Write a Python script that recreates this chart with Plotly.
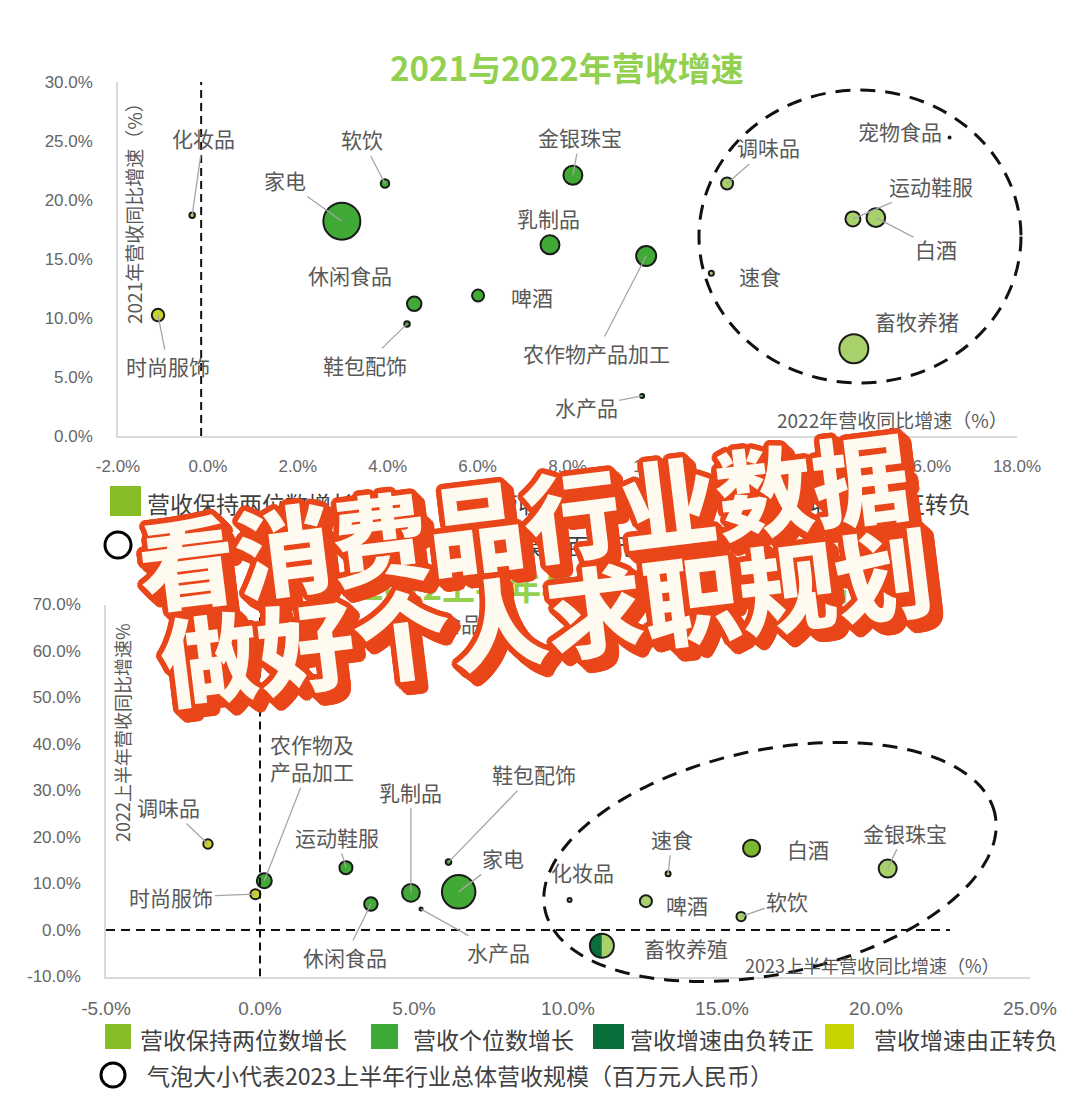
import numpy as np
import plotly.graph_objects as go

W, H = 1080, 1096

# ---------------- DATA: top chart (2021 vs 2022) ----------------
TOP_NAMES = ["化妆品", "时尚服饰", "家电", "软饮", "休闲食品", "鞋包配饰", "啤酒", "乳制品",
             "金银珠宝", "农作物产品加工", "水产品", "调味品", "速食", "宠物食品", "运动鞋服",
             "白酒", "畜牧养猪"]
TOP_GROWTH_2022 = [-0.35, -1.11, 2.98, 3.94, 4.59, 4.43, 6.01, 7.61, 8.12, 9.75, 9.66,
                   11.55, 11.2, 16.5, 14.35, 14.86, 14.37]
TOP_GROWTH_2021 = [18.7, 10.25, 18.2, 21.4, 11.2, 9.5, 11.9, 16.2, 22.1, 15.25, 3.4,
                   21.4, 13.8, 25.3, 18.4, 18.5, 7.4]
TOP_REVENUE_2022 = [30000, 156000, 1370000, 72000, 210000, 30000, 144000, 361000, 361000,
                    400000, 16000, 144000, 25000, 4000, 225000, 350000, 841000]
TOP_CLASS = ["正转负", "正转负", "个位数", "个位数", "个位数", "个位数", "个位数", "个位数",
             "个位数", "个位数", "个位数", "两位数", "两位数", "两位数", "两位数", "两位数", "两位数"]

# ---------------- DATA: bottom chart (2022H1 vs 2023H1) ----------------
BOT_NAMES = ["调味品", "时尚服饰", "农作物及<br>产品加工", "运动鞋服", "休闲食品", "乳制品",
             "鞋包配饰", "水产品", "家电", "化妆品", "速食", "啤酒", "白酒", "金银珠宝",
             "软饮", "畜牧养殖", "宠物食品"]
BOT_GROWTH_2023H1 = [-1.69, -0.15, 0.14, 2.79, 3.6, 4.9, 6.12, 5.23, 6.45, 10.05, 13.25,
                     12.53, 15.96, 20.38, 15.62, 11.1, 7.2]
BOT_GROWTH_2022H1 = [18.5, 7.7, 10.6, 13.4, 5.6, 8.0, 14.6, 4.5, 8.2, 6.45, 12.1, 6.2,
                     17.6, 13.2, 2.9, -3.4, 65.0]
BOT_REVENUE_2023H1 = [44000, 50000, 112000, 85000, 91000, 158000, 15700, 4500, 561000,
                      8000, 12500, 72000, 145000, 162000, 43000, 288000, 2000]
BOT_CLASS = ["正转负", "正转负", "个位数", "个位数", "个位数", "个位数", "个位数", "个位数",
             "个位数", "两位数", "两位数", "两位数", "两位数深", "两位数", "两位数", "负转正", "两位数"]

TOP_X_TICKS = [-2, 0, 2, 4, 6, 8, 10, 12, 14, 16, 18]
TOP_Y_TICKS = [0, 5, 10, 15, 20, 25, 30]
BOT_X_TICKS = [-5, 0, 5, 10, 15, 20, 25]
BOT_Y_TICKS = [-10, 0, 10, 20, 30, 40, 50, 60, 70]

LEGEND_LABELS = ["营收保持两位数增长", "营收个位数增长", "营收增速由负转正", "营收增速由正转负"]

# ---------------- STYLE ----------------
LEG_COLORS = {"两位数": "#86BC25", "个位数": "#3DAA35", "负转正": "#0A6E3A", "正转负": "#C8D400"}
BUBBLE_COLORS = {"两位数": "#A9D16B", "两位数深": "#7DB82C", "个位数": "#41A935",
                 "负转正": "rgba(0,0,0,0)", "正转负": "#CBD12C"}
GRAY = "#595959"
AXIS_GRAY = "#D9D9D9"
CJK = "Noto Sans CJK SC"
TOP_SIZEREF = 2000
BOT_SIZEREF = 1000

# label offsets in pixels (label centre relative to bubble), and whether a leader line is drawn
TOP_LABEL_POS = {
    "化妆品": (11, -77, True), "时尚服饰": (10, 51, True), "家电": (-57, -41, True),
    "软饮": (-23, -44, True), "休闲食品": (-64, -29, False), "鞋包配饰": (-42, 41, True),
    "啤酒": (54, 1, False), "乳制品": (-1, -27, False), "金银珠宝": (7, -38, True),
    "农作物产品加工": (-50, 97, True), "水产品": (-56, 11, True), "调味品": (41, -36, True),
    "速食": (49, 3, False), "宠物食品": (-50, -6, False), "运动鞋服": (78, -33, True),
    "白酒": (60, 31, True), "畜牧养猪": (63, -28, False),
}
BOT_LABEL_POS = {
    "调味品": (-39, -37, True), "时尚服饰": (-84, 3, True), "农作物及<br>产品加工": (48, -123, True),
    "运动鞋服": (-9, -31, True), "休闲食品": (-26, 53, True), "乳制品": (0, -101, True),
    "鞋包配饰": (85, -88, True), "水产品": (77, 43, True), "家电": (44, -34, True),
    "化妆品": (13, -28, False), "速食": (4, -35, True), "啤酒": (41, 4, False),
    "白酒": (56, 1, False), "金银珠宝": (17, -36, True), "软饮": (46, -16, True),
    "畜牧养殖": (84, 2, False), "宠物食品": (-42, -5, False),
}


def px(x):
    return x / W


def py(y):
    return 1 - y / H


fig = go.Figure()

# bubbles
fig.add_trace(go.Scatter(
    x=TOP_GROWTH_2022, y=TOP_GROWTH_2021, mode="markers", xaxis="x", yaxis="y",
    marker=dict(size=TOP_REVENUE_2022, sizemode="area", sizeref=TOP_SIZEREF,
                color=[BUBBLE_COLORS[c] for c in TOP_CLASS],
                line=dict(color="#1A1A1A", width=2), opacity=1),
    hoverinfo="skip", showlegend=False, cliponaxis=False))
fig.add_trace(go.Scatter(
    x=BOT_GROWTH_2023H1, y=BOT_GROWTH_2022H1, mode="markers", xaxis="x2", yaxis="y2",
    marker=dict(size=BOT_REVENUE_2023H1, sizemode="area", sizeref=BOT_SIZEREF,
                color=[BUBBLE_COLORS[c] for c in BOT_CLASS],
                line=dict(color="#1A1A1A", width=2), opacity=1),
    hoverinfo="skip", showlegend=False, cliponaxis=False))

shapes = []
annotations = []

# half-filled bubble(s) for "负转正"
k = 0.5523
for xv, yv, rev, cls in zip(BOT_GROWTH_2023H1, BOT_GROWTH_2022H1, BOT_REVENUE_2023H1, BOT_CLASS):
    if cls != "负转正":
        continue
    r = float(np.sqrt(rev / 2 / BOT_SIZEREF))
    left = (f"M 0,{r} C {-k*r},{r} {-r},{k*r} {-r},0 C {-r},{-k*r} {-k*r},{-r} 0,{-r} Z")
    right = (f"M 0,{r} C {k*r},{r} {r},{k*r} {r},0 C {r},{-k*r} {k*r},{-r} 0,{-r} Z")
    for path, col in ((left, LEG_COLORS["负转正"]), (right, BUBBLE_COLORS["两位数"])):
        shapes.append(dict(type="path", xref="x2", yref="y2", xsizemode="pixel",
                           ysizemode="pixel", xanchor=xv, yanchor=yv, path=path,
                           fillcolor=col, line=dict(width=0), layer="below"))

# reference dashed lines
shapes.append(dict(type="line", xref="x", yref="y", x0=-0.15, x1=-0.15, y0=0, y1=30,
                   line=dict(color="#111", width=2, dash="8px,5px")))
shapes.append(dict(type="line", xref="x2", yref="y2", x0=0, x1=0, y0=-10, y1=70,
                   line=dict(color="#111", width=2, dash="8px,5px")))
shapes.append(dict(type="line", xref="x2", yref="y2", x0=-5, x1=22.4, y0=0, y1=0,
                   line=dict(color="#111", width=2, dash="9px,6px")))

# dashed ellipses
shapes.append(dict(type="circle", xref="paper", yref="paper", x0=px(699), x1=px(1021),
                   y0=py(383), y1=py(90), line=dict(color="#111", width=3, dash="15px,10px")))


def ellipse_path(cx, cy, a, b, theta_deg, n=200):
    th = np.radians(theta_deg)
    t = np.linspace(0, 2 * np.pi, n)
    u, v = a * np.cos(t), b * np.sin(t)
    xx = cx + u * np.cos(th) - v * np.sin(th)
    yy = cy - (u * np.sin(th) + v * np.cos(th))
    return "M " + " L ".join(f"{px(x):.5f},{py(y):.5f}" for x, y in zip(xx, yy)) + " Z"


shapes.append(dict(type="path", xref="paper", yref="paper", path=ellipse_path(770, 862, 230, 112, 12),
                   line=dict(color="#111", width=3, dash="15px,10px")))

# bubble labels
lab_font = dict(family=CJK, size=21, color=GRAY)
for names, xs, ys, pos, xr, yr in (
        (TOP_NAMES, TOP_GROWTH_2022, TOP_GROWTH_2021, TOP_LABEL_POS, "x", "y"),
        (BOT_NAMES, BOT_GROWTH_2023H1, BOT_GROWTH_2022H1, BOT_LABEL_POS, "x2", "y2")):
    for n, xv, yv in zip(names, xs, ys):
        dx, dy, line = pos[n]
        annotations.append(dict(
            x=xv, y=yv, xref=xr, yref=yr, ax=dx, ay=dy, text=n, font=lab_font,
            showarrow=True, arrowhead=0, arrowwidth=1.3,
            arrowcolor="#A6A6A6" if line else "rgba(0,0,0,0)", standoff=0))


def paper_text(text, x, y, font, xanchor="center", angle=0):
    annotations.append(dict(text=text, x=px(x), y=py(y), xref="paper", yref="paper",
                            xanchor=xanchor, yanchor="middle", showarrow=False,
                            textangle=angle, font=font))


# titles
title_font = dict(family=CJK, size=33, color="#92D050")
paper_text("<b>2021与2022年营收增速</b>", 388, 67, title_font, "left")
paper_text("<b>2022上半年与2023上半年营收增速</b>", 362, 586, title_font, "left")

# axis titles
paper_text("2021年营收同比增速（%）", 133, 209, dict(family=CJK, size=19, color=GRAY), angle=-90)
paper_text("2022年营收同比增速（%）", 892, 419, dict(family=CJK, size=19, color=GRAY))
paper_text("2022上半年营收同比增速%", 122, 733, dict(family=CJK, size=18, color=GRAY), angle=-90)
paper_text("2023上半年营收同比增速（%）", 872, 965, dict(family=CJK, size=18, color=GRAY))

# legends
leg_font = dict(family=CJK, size=23, color="#404040")


def legend_item(x0, x1, y0, y1, color, text, tx, ty):
    shapes.append(dict(type="rect", xref="paper", yref="paper", x0=px(x0), x1=px(x1),
                       y0=py(y1), y1=py(y0), fillcolor=color, line=dict(width=0)))
    paper_text(text, tx, ty, leg_font, "left")


legend_item(110, 141, 486, 516, LEG_COLORS["两位数"], LEGEND_LABELS[0], 145, 503)
legend_item(459, 487, 488, 516, LEG_COLORS["个位数"], LEGEND_LABELS[1], 493, 503)
legend_item(752, 781, 488, 516, LEG_COLORS["正转负"], LEGEND_LABELS[3], 785, 503)
shapes.append(dict(type="circle", xref="paper", yref="paper", x0=px(105), x1=px(131),
                   y0=py(558), y1=py(532), line=dict(color="#000", width=3)))
paper_text("气泡大小代表2022年行业总体营收规模（百万元人民币）", 145, 545, leg_font, "left")

legend_item(105, 131, 1024, 1049, LEG_COLORS["两位数"], LEGEND_LABELS[0], 138, 1039)
legend_item(371, 398, 1024, 1049, LEG_COLORS["个位数"], LEGEND_LABELS[1], 411, 1039)
legend_item(593, 624, 1024, 1049, LEG_COLORS["负转正"], LEGEND_LABELS[2], 628, 1039)
legend_item(825, 854, 1024, 1049, LEG_COLORS["正转负"], LEGEND_LABELS[3], 872, 1039)
shapes.append(dict(type="circle", xref="paper", yref="paper", x0=px(101), x1=px(125),
                   y0=py(1087), y1=py(1063), line=dict(color="#000", width=3)))
paper_text("气泡大小代表2023上半年行业总体营收规模（百万元人民币）", 145, 1075, leg_font, "left")

# overlay headline
RED = "#E9461A"


def ring(r, dx=0.0, dy=0.0, n=20):
    return [f"{dx + r*np.cos(a):.1f}px {dy + r*np.sin(a):.1f}px 0px {RED}"
            for a in np.linspace(0, 2 * np.pi, n, endpoint=False)]


shadow = ", ".join(ring(5.5) + ring(5.5, 2.5, 3) + ring(5.5, 5, 6) + ring(5.5, 7, 8.5))
head_font = dict(family=CJK, size=97, color="#FFFAF0", weight=900, shadow=shadow)
paper_text("看消费品行业数据", 523, 516, head_font, angle=-7)
paper_text("做好个人求职规划", 546, 612, head_font, angle=-7)

tick_font = dict(family="Liberation Sans", size=17, color="#666666")
tick_font_narrow = dict(family="Liberation Sans Narrow, Liberation Sans", size=19, color="#666666")

common = dict(showgrid=False, zeroline=False, showline=True, linecolor=AXIS_GRAY,
              linewidth=1.5, ticks="", automargin=False)
fig.update_layout(
    width=W, height=H, margin=dict(l=0, r=0, t=0, b=0, pad=0, autoexpand=False),
    paper_bgcolor="white", plot_bgcolor="white", showlegend=False,
    font=dict(family=CJK),
    xaxis=dict(domain=[px(118), px(1017)], range=[-2, 18], anchor="y",
               tickvals=TOP_X_TICKS, ticktext=[f"{v:.1f}%" for v in TOP_X_TICKS],
               tickfont=tick_font, ticklabelstandoff=14, **common),
    yaxis=dict(domain=[py(436), py(82)], range=[0, 30], anchor="x",
               tickvals=TOP_Y_TICKS, ticktext=[f"{v:.1f}%" for v in TOP_Y_TICKS],
               tickfont=tick_font, ticklabelstandoff=20, **common),
    xaxis2=dict(domain=[px(106), px(1030)], range=[-5, 25], anchor="y2",
                tickvals=BOT_X_TICKS, ticktext=[f"{v:.1f}%" for v in BOT_X_TICKS],
                tickfont=tick_font_narrow, ticklabelstandoff=14, **common),
    yaxis2=dict(domain=[py(976.5), py(604.5)], range=[-10, 70], anchor="x2",
                tickvals=BOT_Y_TICKS, ticktext=[f"{v:.1f}%" for v in BOT_Y_TICKS],
                tickfont=tick_font, ticklabelstandoff=20, **common),
    shapes=shapes, annotations=annotations,
)

fig.write_html("out.html")
